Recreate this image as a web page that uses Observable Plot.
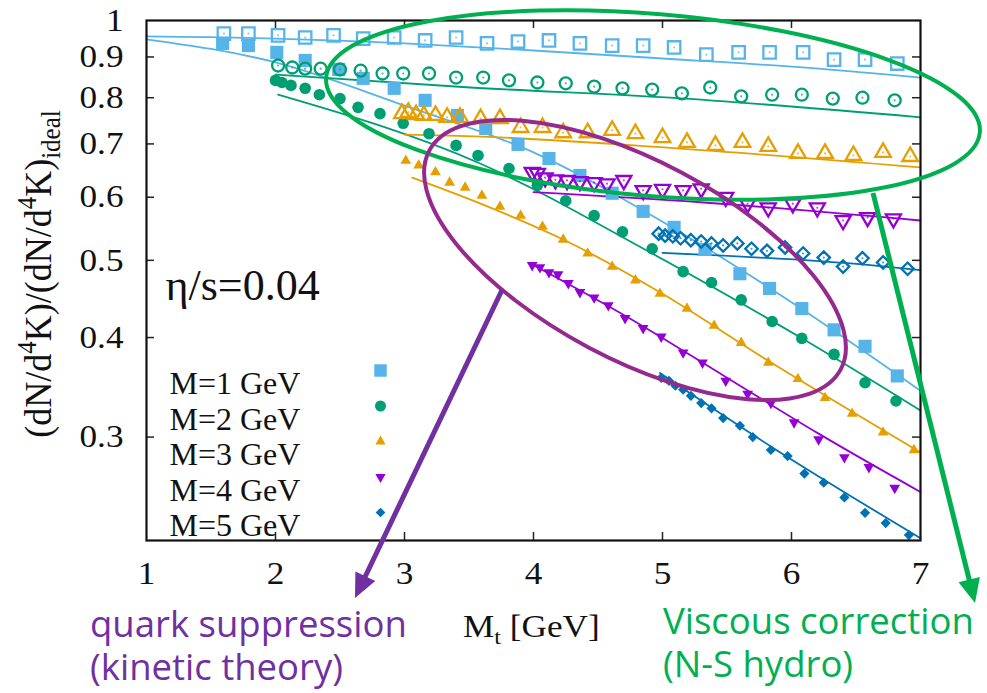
<!DOCTYPE html>
<html><head><meta charset="utf-8">
<script src="https://cdn.jsdelivr.net/npm/d3@7"></script>
<script src="https://cdn.jsdelivr.net/npm/@observablehq/plot@0.6"></script>
<style>html,body{margin:0;padding:0;background:#fff;overflow:hidden}</style>
</head><body><div id="chart"></div>
<script>
// ---------------- data (x = M_t in GeV, y = ratio) ----------------
const xTicks = [1, 2, 3, 4, 5, 6, 7];
const yTicks = [0.3, 0.4, 0.5, 0.6, 0.7, 0.8, 0.9, 1];
const innerXTicks = [2, 3, 4, 5, 6];
const innerYTicks = [0.3, 0.4, 0.5, 0.6, 0.7, 0.8, 0.9];
const seriesLabels = ["M=1 GeV", "M=2 GeV", "M=3 GeV", "M=4 GeV", "M=5 GeV"];
const etaLabel = "η/s=0.04";

// kinetic theory (filled markers)
const m1Kinetic = [[1.59,0.936],[1.79,0.930],[2.01,0.912],[2.23,0.891],[2.49,0.868],[2.68,0.846],[2.92,0.822],[3.16,0.794],[3.41,0.760],[3.63,0.732],[3.88,0.699],[4.12,0.671],[4.36,0.639],[4.61,0.607],[4.85,0.576],[5.09,0.550],[5.33,0.516],[5.60,0.481],[5.83,0.461],[6.08,0.435],[6.33,0.409],[6.57,0.390],[6.82,0.358]];
const m2Kinetic = [[2.00,0.841],[2.05,0.836],[2.12,0.829],[2.23,0.822],[2.34,0.807],[2.50,0.798],[2.64,0.778],[2.81,0.764],[2.99,0.743],[3.19,0.721],[3.40,0.697],[3.57,0.677],[3.81,0.652],[4.03,0.621],[4.25,0.594],[4.47,0.569],[4.69,0.543],[4.92,0.517],[5.16,0.484],[5.38,0.469],[5.61,0.446],[5.85,0.419],[6.08,0.399],[6.33,0.381],[6.57,0.351],[6.81,0.333]];
const m3Kinetic = [[3.01,0.667],[3.11,0.658],[3.24,0.645],[3.35,0.626],[3.47,0.617],[3.60,0.603],[3.74,0.584],[3.90,0.569],[4.07,0.551],[4.23,0.531],[4.42,0.510],[4.61,0.491],[4.79,0.472],[4.98,0.454],[5.19,0.435],[5.40,0.414],[5.61,0.394],[5.82,0.372],[6.05,0.355],[6.26,0.336],[6.47,0.321],[6.71,0.304],[6.95,0.289]];
const m4Kinetic = [[3.99,0.493],[4.05,0.490],[4.12,0.483],[4.19,0.480],[4.27,0.468],[4.36,0.456],[4.47,0.449],[4.58,0.439],[4.71,0.423],[4.85,0.411],[4.99,0.401],[5.16,0.383],[5.31,0.372],[5.49,0.353],[5.66,0.340],[5.84,0.331],[6.02,0.313],[6.21,0.298],[6.41,0.283],[6.60,0.275],[6.80,0.259]];
const m5Kinetic = [[4.99,0.356],[5.05,0.353],[5.10,0.348],[5.16,0.344],[5.22,0.338],[5.30,0.331],[5.38,0.326],[5.47,0.317],[5.60,0.310],[5.70,0.300],[5.84,0.289],[5.97,0.284],[6.10,0.270],[6.25,0.263],[6.41,0.252],[6.57,0.241],[6.73,0.234],[6.91,0.226]];

// N-S hydro (open markers)
const m1Hydro = [[1.60,0.963],[1.79,0.963],[2.02,0.958],[2.23,0.952],[2.45,0.958],[2.68,0.949],[2.92,0.952],[3.16,0.944],[3.40,0.952],[3.64,0.936],[3.88,0.941],[4.12,0.944],[4.36,0.936],[4.61,0.930],[4.85,0.930],[5.09,0.925],[5.34,0.906],[5.59,0.912],[5.83,0.912],[6.09,0.912],[6.33,0.893],[6.57,0.893],[6.82,0.883]];
const m2Hydro = [[2.02,0.878],[2.13,0.873],[2.23,0.870],[2.35,0.870],[2.50,0.868],[2.66,0.865],[2.83,0.858],[2.99,0.858],[3.19,0.858],[3.40,0.848],[3.61,0.848],[3.81,0.841],[4.03,0.836],[4.25,0.834],[4.47,0.826],[4.69,0.822],[4.92,0.819],[5.15,0.810],[5.37,0.824],[5.61,0.803],[5.85,0.807],[6.08,0.807],[6.32,0.798],[6.55,0.800],[6.80,0.794]];
const m3Hydro = [[2.98,0.764],[3.03,0.767],[3.09,0.762],[3.15,0.760],[3.24,0.760],[3.33,0.756],[3.43,0.756],[3.59,0.753],[3.74,0.753],[3.90,0.734],[4.07,0.734],[4.23,0.723],[4.42,0.723],[4.61,0.728],[4.79,0.721],[5.00,0.713],[5.19,0.703],[5.41,0.697],[5.62,0.703],[5.82,0.695],[6.05,0.681],[6.26,0.681],[6.48,0.677],[6.71,0.683],[6.92,0.675]];
const m4Hydro = [[3.99,0.645],[4.03,0.643],[4.09,0.635],[4.17,0.631],[4.26,0.630],[4.36,0.628],[4.47,0.626],[4.57,0.624],[4.70,0.630],[4.85,0.612],[5.00,0.614],[5.16,0.612],[5.30,0.615],[5.49,0.600],[5.66,0.589],[5.82,0.582],[6.01,0.589],[6.20,0.582],[6.40,0.561],[6.59,0.566],[6.79,0.564]];
const m5Hydro = [[4.97,0.540],[5.02,0.537],[5.08,0.536],[5.14,0.533],[5.22,0.530],[5.30,0.528],[5.38,0.525],[5.47,0.522],[5.58,0.525],[5.69,0.517],[5.81,0.514],[5.95,0.519],[6.09,0.510],[6.25,0.504],[6.40,0.491],[6.55,0.503],[6.71,0.497],[6.90,0.488]];

// curves
const m1KineticLine = [[1,0.947],[2,0.886],[3,0.782],[4,0.683],[5,0.559],[6,0.443],[7,0.343]];
const m2KineticLine = [[2.02,0.807],[3.59,0.661],[4.91,0.511],[6.07,0.400],[7,0.324]];
const m3KineticLine = [[3.06,0.635],[3.59,0.589],[4.23,0.531],[4.98,0.456],[5.82,0.374],[7,0.287]];
const m4KineticLine = [[3.99,0.494],[4.71,0.426],[5.49,0.357],[6.21,0.303],[7,0.256]];
const m5KineticLine = [[4.98,0.361],[5.84,0.292],[7,0.224]];
const m1HydroLine = [[1,0.955],[2,0.949],[3,0.936],[4,0.917],[5,0.896],[6,0.875],[7,0.848]];
const m2HydroLine = [[2,0.855],[3.51,0.824],[5.06,0.800],[7,0.756]];
const m3HydroLine = [[3,0.719],[3.59,0.715],[5.06,0.692],[7,0.654]];
const m4HydroLine = [[4,0.609],[5.32,0.591],[7,0.561]];
const m5HydroLine = [[5,0.511],[6.61,0.493],[7,0.486]];

// ---------------- styles ----------------
const styles = [
  {color:"#56B4E9", symbol:"square",   rotate:0,   rFill:7.4, rOpen:7.0},
  {color:"#009E73", symbol:"circle",   rotate:0,   rFill:5.8, rOpen:6.0},
  {color:"#E69F00", symbol:"triangle", rotate:0,   rFill:4.0, rOpen:5.8},
  {color:"#9400D3", symbol:"triangle", rotate:180, rFill:4.0, rOpen:5.6},
  {color:"#0072B2", symbol:"diamond2", rotate:0,   rFill:4.6, rOpen:5.6}
];
const kinetic = [m1Kinetic, m2Kinetic, m3Kinetic, m4Kinetic, m5Kinetic];
const hydro = [m1Hydro, m2Hydro, m3Hydro, m4Hydro, m5Hydro];
const kineticLines = [m1KineticLine, m2KineticLine, m3KineticLine, m4KineticLine, m5KineticLine];
const hydroLines = [m1HydroLine, m2HydroLine, m3HydroLine, m4HydroLine, m5HydroLine];

const W = 987, H = 693, mL = 146, mR = 67, mT = 20, mB = 153;
const pw = W - mL - mR, ph = H - mT - mB, tickLen = 8;
const serif = "Liberation Serif, Times New Roman, serif";
const X = d => d[0], Y = d => d[1];

const marks = [
  Plot.tickX(innerXTicks, {x: d => d, stroke: "#222", strokeWidth: 1.5, insetTop: ph - tickLen}),
  Plot.tickX(innerXTicks, {x: d => d, stroke: "#222", strokeWidth: 1.5, insetBottom: ph - tickLen}),
  Plot.tickY(innerYTicks, {y: d => d, stroke: "#222", strokeWidth: 1.5, insetRight: pw - tickLen}),
  Plot.tickY(innerYTicks, {y: d => d, stroke: "#222", strokeWidth: 1.5, insetLeft: pw - tickLen})
];
styles.forEach((s, i) => {
  marks.push(Plot.line(hydroLines[i], {x: X, y: Y, stroke: s.color, strokeWidth: 1.8, curve: "monotone-x"}));
  marks.push(Plot.line(kineticLines[i], {x: X, y: Y, stroke: s.color, strokeWidth: 1.8, curve: "monotone-x"}));
});
styles.forEach((s, i) => {
  marks.push(Plot.dot(hydro[i], {x: X, y: Y, symbol: s.symbol, rotate: s.rotate, r: s.rOpen, stroke: s.color, strokeWidth: 2.3, fill: "none"}));
  marks.push(Plot.dot(hydro[i], {x: X, y: Y, r: 1.1, fill: s.color, fillOpacity: 0.7, stroke: "none"}));
  marks.push(Plot.dot(kinetic[i], {x: X, y: Y, symbol: s.symbol, rotate: s.rotate, r: s.rFill, fill: s.color, stroke: "none"}));
});
// in-frame legend
styles.forEach((s, i) => {
  marks.push(Plot.text([seriesLabels[i]], {text: d => d, frameAnchor: "top-left", dx: 23, dy: 351 + 35.5 * i,
    textAnchor: "start", fontSize: 32, fontFamily: serif, fill: "#111", ariaLabel: "legend-label"}));
  marks.push(Plot.dot([0], {frameAnchor: "top-left", dx: 234, dy: 350 + 35.5 * i, symbol: s.symbol, rotate: s.rotate,
    r: s.rFill * 0.95, fill: s.color, stroke: "none"}));
});
marks.push(Plot.text([etaLabel], {text: d => d, frameAnchor: "top-left", dx: 19, dy: 248, textAnchor: "start",
  fontSize: 44, fontFamily: serif, fill: "#111", ariaLabel: "eta-label"}));
marks.push(Plot.frame({stroke: "#111", strokeWidth: 2.2}));
marks.push(Plot.axisX(xTicks, {anchor: "bottom", tickSize: 0, tickPadding: 21, fontSize: 32, fontFamily: serif, label: null,
  tickFormat: d => String(d), fill: "#111"}));
marks.push(Plot.axisY(yTicks, {anchor: "left", tickSize: 0, tickPadding: 23, fontSize: 32, fontFamily: serif, label: null,
  tickFormat: d => String(d), fill: "#111"}));

const plot = Plot.plot({
  width: W, height: H, marginLeft: mL, marginRight: mR, marginTop: mT, marginBottom: mB,
  x: {domain: [1, 7]},
  y: {type: "log", domain: [0.2225, 1]},
  style: {background: "#fff", color: "#111", overflow: "visible"},
  marks
});
document.getElementById("chart").append(plot);

const svg = d3.select(plot);
function stretch(sel, k) {
  svg.selectAll(sel).each(function () {
    const t = this.getAttribute("transform") || "";
    this.setAttribute("transform", t + ` scale(${k},1)`);
  });
}
stretch('g[aria-label="x-axis tick label"] text', 1.1);
stretch('g[aria-label="y-axis tick label"] text', 1.1);
stretch('g[aria-label="legend-label"] text', 1.15);
stretch('g[aria-label="eta-label"] text', 1.34);

// axis titles
const yl = svg.append("text").attr("transform", "translate(51,274) rotate(-90) scale(1,1.08)")
  .attr("text-anchor", "middle").attr("font-family", serif).attr("font-size", 36).attr("fill", "#111");
yl.append("tspan").text("(dN/d");
yl.append("tspan").attr("font-size", 25).attr("dy", -14).text("4");
yl.append("tspan").attr("dy", 14).text("K)/(dN/d");
yl.append("tspan").attr("font-size", 25).attr("dy", -14).text("4");
yl.append("tspan").attr("dy", 14).text("K)");
yl.append("tspan").attr("font-size", 25).attr("dy", 8).text("ideal");

const xl = svg.append("text").attr("transform", "translate(463,637) scale(1.1,1)").attr("text-anchor", "start")
  .attr("font-family", serif).attr("font-size", 32).attr("fill", "#111");
xl.append("tspan").text("M");
xl.append("tspan").attr("font-size", 22).attr("dy", 7).text("t");
xl.append("tspan").attr("dy", -7).text("\u00A0[GeV]");

// annotations
svg.append("ellipse").attr("cx", 653).attr("cy", 105).attr("rx", 328).attr("ry", 91)
  .attr("transform", "rotate(4.8 653 105)").attr("fill", "none").attr("stroke", "#00B050").attr("stroke-width", 4);
svg.append("ellipse").attr("cx", 635).attr("cy", 260).attr("rx", 233).attr("ry", 99)
  .attr("transform", "rotate(28 635 260)").attr("fill", "none").attr("stroke", "#952A8E").attr("stroke-width", 4);

function arrow(x1, y1, x2, y2, color) {
  const dx = x2 - x1, dy = y2 - y1, len = Math.hypot(dx, dy);
  const ux = dx / len, uy = dy / len, nx = -uy, ny = ux;
  const L = 24, Wd = 11;
  const bx = x2 - ux * L, by = y2 - uy * L;
  svg.append("line").attr("x1", x1).attr("y1", y1).attr("x2", bx + ux * 3).attr("y2", by + uy * 3)
    .attr("stroke", color).attr("stroke-width", 5);
  svg.append("polygon").attr("points", `${x2},${y2} ${bx + nx * Wd},${by + ny * Wd} ${bx - nx * Wd},${by - ny * Wd}`)
    .attr("fill", color);
}
arrow(502, 290, 355, 598, "#7030A0");
arrow(873, 193, 975, 603, "#00B050");

const sans = "Open Sans, Noto Sans, sans-serif";
function note(x, y, color, txt) {
  svg.append("text").attr("x", x).attr("y", y).attr("text-anchor", "start").attr("fill", color)
    .attr("font-family", sans).attr("font-size", 36.5).text(txt);
}
note(90, 637, "#7030A0", "quark suppression");
note(90, 680, "#7030A0", "(kinetic theory)");
note(663, 634, "#00B050", "Viscous correction");
note(663, 677, "#00B050", "(N-S hydro)");
</script></body></html>
